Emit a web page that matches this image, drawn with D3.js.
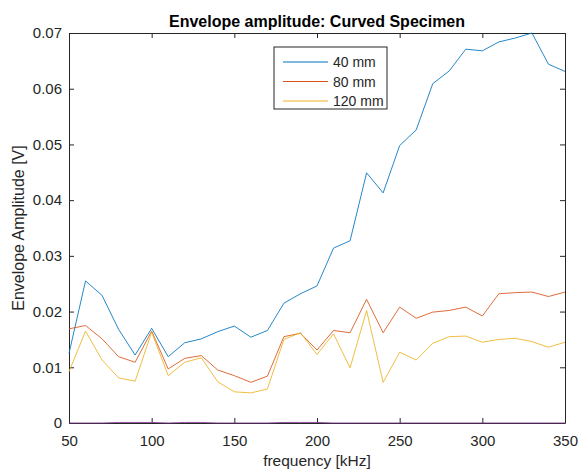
<!DOCTYPE html>
<html>
<head>
<meta charset="utf-8">
<script src="https://cdn.jsdelivr.net/npm/d3@7"></script>
<style>
  body { margin: 0; background: #fff; }
  svg { font-family: "Liberation Sans", Arial, sans-serif; }
</style>
</head>
<body>
<div id="chart"></div>
<script>
// frequencies in kHz
var freq = [50, 60, 70, 80, 90, 100, 110, 120, 130, 140, 150, 160, 170, 180, 190, 200,
            210, 220, 230, 240, 250, 260, 270, 280, 290, 300, 310, 320, 330, 340, 350];

var amp40 = [0.0125, 0.0255, 0.0229, 0.0168, 0.0122, 0.0170, 0.0119, 0.0144, 0.0151, 0.0164, 0.0174, 0.0154,
             0.0166, 0.0215, 0.0232, 0.0246, 0.0314, 0.0327, 0.0449, 0.0413, 0.0498, 0.0526, 0.0609, 0.0632,
             0.0671, 0.0668, 0.0684, 0.0691, 0.0700, 0.0644, 0.0631];
var amp80 = [0.0169, 0.0175, 0.0151, 0.0119, 0.0109, 0.0165, 0.0097, 0.0116, 0.0121, 0.0095, 0.0085, 0.0073,
             0.0084, 0.0155, 0.0161, 0.0131, 0.0166, 0.0162, 0.0222, 0.0162, 0.0208, 0.0188, 0.0199, 0.0202,
             0.0208, 0.0192, 0.0232, 0.0234, 0.0235, 0.0227, 0.0235];
var amp120 = [0.0092, 0.0165, 0.0113, 0.0081, 0.0075, 0.0163, 0.0085, 0.0109, 0.0117, 0.0074, 0.0056, 0.0054,
              0.0061, 0.0150, 0.0162, 0.0123, 0.0160, 0.0099, 0.0202, 0.0073, 0.0127, 0.0113, 0.0143, 0.0155,
              0.0156, 0.0145, 0.0150, 0.0152, 0.0146, 0.0136, 0.0145];
// fourth trace, sits on zero (not in legend)
var ampRef = [0, 0, 0, 0.0001, 0.0001, 0.0001, 0, 0.0001, 0.0001, 0, 0, 0,
              0, 0.0001, 0.0001, 0.0001, 0, 0, 0, 0, 0, 0, 0, 0,
              0, 0, 0, 0, 0, 0, 0];

var seriesNames = ["40 mm", "80 mm", "120 mm"];
var xTicks = [50, 100, 150, 200, 250, 300, 350];
var yTicks = [0, 0.01, 0.02, 0.03, 0.04, 0.05, 0.06, 0.07];

var series = [
    {name: seriesNames[0], values: amp40, color: "#0072BD"},
    {name: seriesNames[1], values: amp80, color: "#D95319"},
    {name: seriesNames[2], values: amp120, color: "#EDB120"},
    {name: null, values: ampRef, color: "#7E2F8E"}
];

var width = 579, height = 470;
var margin = {left: 69, right: 14, top: 33, bottom: 47};
var axisColor = "#262626";

var svg = d3.select("#chart").append("svg")
    .attr("width", width)
    .attr("height", height);

var x = d3.scaleLinear().domain([50, 350]).range([margin.left, width - margin.right]);
var y = d3.scaleLinear().domain([0, 0.07]).range([height - margin.bottom, margin.top]);

var line = d3.line()
    .x(function(d, i) { return x(freq[i]); })
    .y(function(d) { return y(d); });

// axes (MATLAB box style, ticks inward)
function styleAxis(g) {
    g.select(".domain").attr("stroke", axisColor);
    g.selectAll(".tick line").attr("stroke", axisColor);
    g.selectAll(".tick text").attr("fill", axisColor).attr("font-size", 15);
}

svg.append("g")
    .attr("transform", "translate(0," + y(0) + ")")
    .call(d3.axisBottom(x).tickValues(xTicks).tickSizeInner(-5).tickSizeOuter(0).tickPadding(12))
    .call(styleAxis);
svg.append("g")
    .attr("transform", "translate(0," + y(0.07) + ")")
    .call(d3.axisTop(x).tickValues(xTicks).tickSizeInner(-5).tickSizeOuter(0).tickFormat(""))
    .call(styleAxis);
svg.append("g")
    .attr("transform", "translate(" + x(50) + ",0)")
    .call(d3.axisLeft(y).tickValues(yTicks).tickSizeInner(-5).tickSizeOuter(0).tickPadding(7)
        .tickFormat(function(d) { return d === 0 ? "0" : d3.format(".2f")(d); }))
    .call(styleAxis);
svg.append("g")
    .attr("transform", "translate(" + x(350) + ",0)")
    .call(d3.axisRight(y).tickValues(yTicks).tickSizeInner(-5).tickSizeOuter(0).tickFormat(""))
    .call(styleAxis);

// lines, on top of the axes like matlab
var plot = svg.append("g");
series.forEach(function(s) {
    plot.append("path")
        .datum(s.values)
        .attr("fill", "none")
        .attr("stroke", s.color)
        .attr("stroke-width", 1)
        .attr("stroke-opacity", 0.85)
        .attr("d", line);
});

// title and labels
svg.append("text")
    .attr("x", (x(50) + x(350)) / 2)
    .attr("y", 27)
    .attr("text-anchor", "middle")
    .attr("font-size", 16)
    .attr("font-weight", "bold")
    .attr("fill", "#000")
    .text("Envelope amplitude: Curved Specimen");

svg.append("text")
    .attr("x", (x(50) + x(350)) / 2)
    .attr("y", 466)
    .attr("text-anchor", "middle")
    .attr("font-size", 15.5)
    .attr("fill", axisColor)
    .text("frequency [kHz]");

svg.append("text")
    .attr("transform", "translate(24," + (y(0.035)) + ") rotate(-90)")
    .attr("text-anchor", "middle")
    .attr("font-size", 16)
    .attr("fill", axisColor)
    .text("Envelope Amplitude [V]");

// legend
var legend = svg.append("g").attr("transform", "translate(274,47)");
legend.append("rect")
    .attr("width", 113)
    .attr("height", 62)
    .attr("fill", "#fff")
    .attr("stroke", axisColor)
    .attr("stroke-width", 1);
series.slice(0, 3).forEach(function(s, i) {
    var ly = 15 + i * 19.5;
    legend.append("line")
        .attr("x1", 9).attr("x2", 54)
        .attr("y1", ly).attr("y2", ly)
        .attr("stroke", s.color)
        .attr("stroke-width", 1);
    legend.append("text")
        .attr("x", 59)
        .attr("y", ly + 5)
        .attr("font-size", 14)
        .attr("fill", axisColor)
        .text(s.name);
});
</script>
</body>
</html>
